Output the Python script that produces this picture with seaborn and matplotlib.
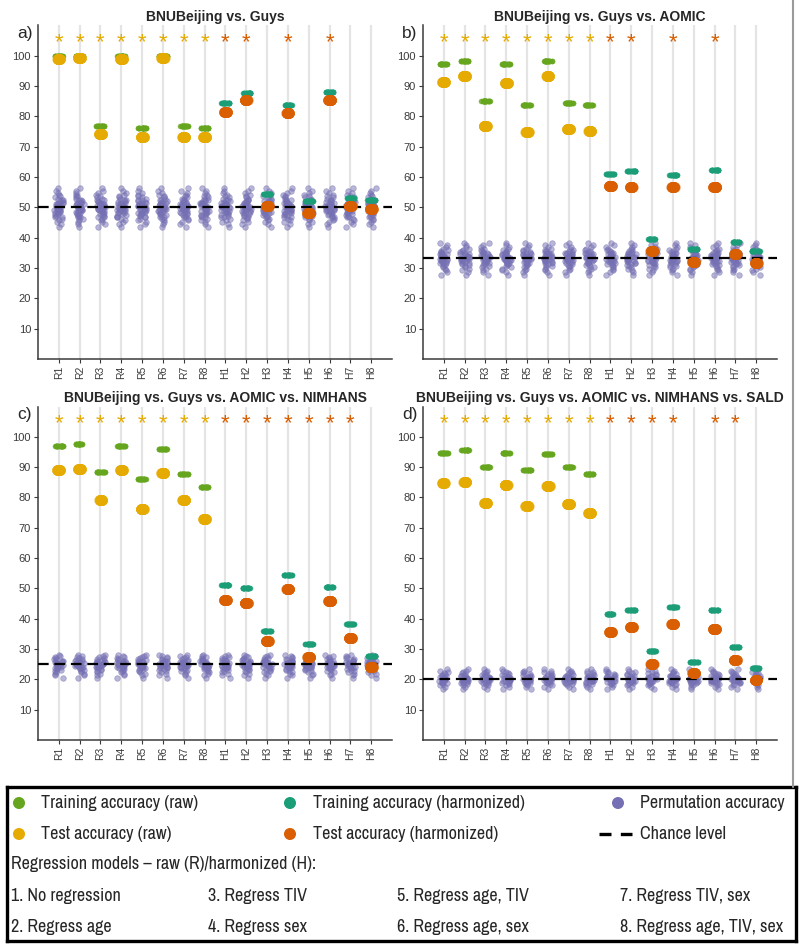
import numpy as np
import pandas as pd
import matplotlib.pyplot as plt
import seaborn as sns
from matplotlib.lines import Line2D
from matplotlib import font_manager as fm

# Model labels (raw R1-R8, harmonized H1-H8)
raw_models = ["R1", "R2", "R3", "R4", "R5", "R6", "R7", "R8"]
harm_models = ["H1", "H2", "H3", "H4", "H5", "H6", "H7", "H8"]
models = raw_models + harm_models

titles = ["BNUBeijing vs. Guys",
          "BNUBeijing vs. Guys vs. AOMIC",
          "BNUBeijing vs. Guys vs. AOMIC vs. NIMHANS",
          "BNUBeijing vs. Guys vs. AOMIC vs. NIMHANS vs. SALD"]
letters = ["a)", "b)", "c)", "d)"]
chance = [50, 100 / 3, 25, 20]

# a) BNUBeijing vs. Guys
train_raw_a = [99.8, 99.9, 77.0, 99.8, 76.2, 99.9, 76.8, 76.2]
test_raw_a = [99.0, 99.3, 74.3, 98.8, 73.2, 99.4, 73.3, 73.2]
train_harm_a = [84.3, 87.8, 54.5, 83.8, 52.2, 88.0, 53.2, 52.5]
test_harm_a = [81.5, 85.3, 50.5, 81.2, 48.0, 85.3, 50.5, 49.5]
perm_a = [43.5, 44.5, 45.2, 45.8, 46.3, 46.7, 47.0, 47.3, 47.6, 47.9, 48.1,
          48.3, 48.5, 48.7, 48.9, 49.1, 49.3, 49.5, 49.6, 49.8, 50.0, 50.1,
          50.3, 50.5, 50.6, 50.8, 51.0, 51.2, 51.4, 51.6, 51.8, 52.0, 52.3,
          52.6, 52.9, 53.3, 53.7, 54.2, 54.8, 55.5, 56.3]
sig_a = [1, 1, 1, 1, 1, 1, 1, 1, 1, 1, 0, 1, 0, 1, 0, 0]

# b) BNUBeijing vs. Guys vs. AOMIC
train_raw_b = [97.2, 98.4, 85.1, 97.3, 83.8, 98.4, 84.3, 83.7]
test_raw_b = [91.5, 93.4, 76.7, 91.0, 75.0, 93.4, 75.8, 75.2]
train_harm_b = [61.0, 62.1, 39.6, 60.8, 36.2, 62.2, 38.5, 35.5]
test_harm_b = [57.2, 56.8, 35.7, 56.7, 32.0, 56.8, 34.5, 31.5]
perm_b = [27.6, 28.6, 29.3, 29.8, 30.3, 30.7, 31.0, 31.3, 31.6, 31.8, 32.0,
          32.2, 32.4, 32.6, 32.8, 33.0, 33.1, 33.3, 33.4, 33.6, 33.8, 33.9,
          34.1, 34.3, 34.5, 34.7, 34.9, 35.1, 35.4, 35.7, 36.0, 36.4, 36.9,
          37.5, 38.4]
sig_b = [1, 1, 1, 1, 1, 1, 1, 1, 1, 1, 0, 1, 0, 1, 0, 0]

# c) BNUBeijing vs. Guys vs. AOMIC vs. NIMHANS
train_raw_c = [96.9, 97.6, 88.3, 97.0, 86.2, 96.1, 87.9, 83.3]
test_raw_c = [89.2, 89.4, 79.2, 89.2, 76.3, 88.2, 79.0, 72.8]
train_harm_c = [51.0, 50.0, 36.1, 54.5, 31.7, 50.4, 38.2, 27.6]
test_harm_c = [46.3, 45.3, 32.5, 49.8, 27.5, 45.8, 33.8, 24.0]
perm_c = [20.4, 21.3, 21.9, 22.4, 22.8, 23.1, 23.4, 23.6, 23.8, 24.0, 24.2,
          24.4, 24.5, 24.7, 24.8, 25.0, 25.1, 25.3, 25.4, 25.6, 25.8, 26.0,
          26.2, 26.4, 26.7, 27.0, 27.3, 27.7, 28.2]
sig_c = [1, 1, 1, 1, 1, 1, 1, 1, 1, 1, 1, 1, 1, 1, 1, 0]

# d) BNUBeijing vs. Guys vs. AOMIC vs. NIMHANS vs. SALD
train_raw_d = [94.5, 95.6, 89.9, 94.6, 89.2, 94.4, 90.0, 87.6]
test_raw_d = [84.7, 85.2, 78.2, 84.0, 77.3, 83.8, 77.9, 75.0]
train_harm_d = [41.6, 42.9, 29.2, 44.0, 25.7, 43.0, 30.6, 23.6]
test_harm_d = [35.7, 37.2, 25.0, 38.2, 22.0, 36.5, 26.5, 19.8]
perm_d = [16.8, 17.5, 18.0, 18.4, 18.7, 18.9, 19.1, 19.3, 19.5, 19.6, 19.8,
          19.9, 20.0, 20.2, 20.3, 20.5, 20.6, 20.8, 21.0, 21.2, 21.4, 21.7,
          22.0, 22.4, 22.9, 23.5]
sig_d = [1, 1, 1, 1, 1, 1, 1, 1, 1, 1, 1, 1, 0, 1, 1, 0]

legend_items = ["Training accuracy (raw)", "Training accuracy (harmonized)",
                "Permutation accuracy", "Test accuracy (raw)",
                "Test accuracy (harmonized)", "Chance level"]
regression_models = ["1. No regression", "2. Regress age", "3. Regress TIV",
                     "4. Regress sex", "5. Regress age, TIV",
                     "6. Regress age, sex", "7. Regress TIV, sex",
                     "8. Regress age, TIV, sex"]

GREEN = "#66a61e"
TEAL = "#1b9e77"
YELLOW = "#e6ab02"
ORANGE = "#d95f02"
PURPLE = "#7570b3"

sns.set_style("white")
plt.rcParams["font.family"] = ["Liberation Sans", "DejaVu Sans"]
np.random.seed(3)

N_REP = 25


def repeated(cats, vals):
    return pd.DataFrame({"model": np.repeat(cats, N_REP),
                         "acc": np.repeat(vals, N_REP)})


def draw_panel(ax, title, letter, level, tr_raw, te_raw, tr_harm, te_harm,
               perm, sig):
    perm_df = pd.DataFrame({"model": np.repeat(models, len(perm)),
                            "acc": np.tile(perm, len(models))})
    sns.stripplot(data=perm_df, x="model", y="acc", order=models,
                  color=PURPLE, size=4, jitter=0.22, alpha=0.5,
                  linewidth=0.6, edgecolor=PURPLE, ax=ax, zorder=2)
    ax.axhline(level, color="black", lw=1.6, ls=(0, (4.8, 2.6)), zorder=3)
    sns.stripplot(data=repeated(raw_models, tr_raw), x="model", y="acc",
                  order=models, color=GREEN, size=4, jitter=0.2,
                  alpha=0.8, ax=ax, zorder=4)
    sns.stripplot(data=repeated(harm_models, tr_harm), x="model", y="acc",
                  order=models, color=TEAL, size=4, jitter=0.2,
                  alpha=0.8, ax=ax, zorder=4)
    sns.stripplot(data=repeated(raw_models, te_raw), x="model", y="acc",
                  order=models, color=YELLOW, size=7.5, jitter=0.08,
                  alpha=0.6, ax=ax, zorder=5)
    sns.stripplot(data=repeated(harm_models, te_harm), x="model", y="acc",
                  order=models, color=ORANGE, size=7.5, jitter=0.08,
                  alpha=0.6, ax=ax, zorder=5)

    # significance stars
    for i in np.flatnonzero(sig):
        ax.text(i, 102.6, "*", ha="center", va="baseline", fontsize=16,
                color=YELLOW if i < 8 else ORANGE)

    ax.set_xlim(-1, 16)
    ax.set_ylim(0, 110)
    ax.set_yticks(range(10, 101, 10))
    ax.set_xlabel("")
    ax.set_ylabel("")
    ax.xaxis.grid(True, color="#e4e4e4", lw=1.6)
    ax.set_axisbelow(True)
    sns.despine(ax=ax)
    for side in ["left", "bottom"]:
        ax.spines[side].set_color("#3a3a3a")
        ax.spines[side].set_linewidth(1.1)
    ax.tick_params(axis="y", labelsize=8, colors="#3a3a3a", length=3,
                   width=0.8, direction="out", left=True, pad=2)
    ax.tick_params(axis="x", labelsize=7.5, colors="#3a3a3a", length=3,
                   width=0.8, direction="out", bottom=True, rotation=90,
                   pad=2)
    ax.set_title(title, fontsize=10, fontweight="bold", pad=3)
    ax.text(-0.037, 0.977, letter, transform=ax.transAxes, ha="center",
            va="center", fontsize=12.5)


fig = plt.figure(figsize=(8, 9.48), dpi=100)
W, H = 800, 948


def add_ax(left, top, width, height):
    return fig.add_axes([left / W, 1 - (top + height) / H, width / W,
                         height / H])


panels = [
    (train_raw_a, test_raw_a, train_harm_a, test_harm_a, perm_a, sig_a),
    (train_raw_b, test_raw_b, train_harm_b, test_harm_b, perm_b, sig_b),
    (train_raw_c, test_raw_c, train_harm_c, test_harm_c, perm_c, sig_c),
    (train_raw_d, test_raw_d, train_harm_d, test_harm_d, perm_d, sig_d),
]
boxes = [(38, 25.5, 354, 333.5), (423, 25.5, 354, 333.5),
         (38, 406.5, 354, 333.5), (423, 406.5, 354, 333.5)]

for k in range(4):
    ax = add_ax(*boxes[k])
    draw_panel(ax, titles[k], letters[k], chance[k], *panels[k])

# gray frame edge on the right side of the panels
fig.add_artist(Line2D([793 / W, 793 / W], [1 - 0 / H, 1 - 787 / H],
                      color="#9a9a9a", lw=1.5, transform=fig.transFigure))

# legend font: a narrow/condensed sans if one is installed
leg_prop = fm.FontProperties(family=["Liberation Sans", "DejaVu Sans"])
for f in fm.fontManager.ttflist:
    name = f.fname.lower()
    if (("narrow" in name or "condensed" in name) and f.style == "normal"
            and f.weight in (400, "normal", "regular", "book")
            and "mono" not in name and "serif" not in name):
        leg_prop = fm.FontProperties(fname=f.fname)
        if "narrow" in name:
            break

# legend box
leg = add_ax(7, 787, 789, 154)
leg.set_xlim(7, 796)
leg.set_ylim(941, 787)
leg.set_xticks([])
leg.set_yticks([])
for s in leg.spines.values():
    s.set_linewidth(2.4)
    s.set_color("black")

# fit the legend font so "Permutation accuracy" fills its slot (~151 px)
probe = leg.text(0, 0, legend_items[2], fontproperties=leg_prop, fontsize=12)
fig.canvas.draw()
probe_w = probe.get_window_extent(renderer=fig.canvas.get_renderer()).width
probe.remove()
leg_size = min(13.0, 12 * 150 / probe_w)

marker_x = [19, 290, 618]
text_x = [41, 313, 640]
row_y = [803, 834]
marker_colors = [GREEN, TEAL, PURPLE, YELLOW, ORANGE, None]
for j, label in enumerate(legend_items):
    r, c = divmod(j, 3)
    if marker_colors[j] is not None:
        leg.scatter(marker_x[c], row_y[r], s=75, color=marker_colors[j],
                    edgecolor="none", clip_on=False)
    else:
        leg.plot([599, 632], [row_y[r], row_y[r]], color="black", lw=2.4,
                 ls=(0, (3.6, 2.8)), solid_capstyle="butt")
    leg.text(text_x[c], row_y[r], label, ha="left", va="center",
             fontproperties=leg_prop, fontsize=leg_size)

leg.text(11, 864, "Regression models \u2013 raw (R)/harmonized (H):",
         ha="left", va="center", fontproperties=leg_prop, fontsize=leg_size)
col_x = [11, 208, 397, 620]
for j, label in enumerate(regression_models):
    c, r = divmod(j, 2)
    leg.text(col_x[c], [896, 927][r], label, ha="left", va="center",
             fontproperties=leg_prop, fontsize=leg_size)

fig.savefig("out.png", dpi=100)
